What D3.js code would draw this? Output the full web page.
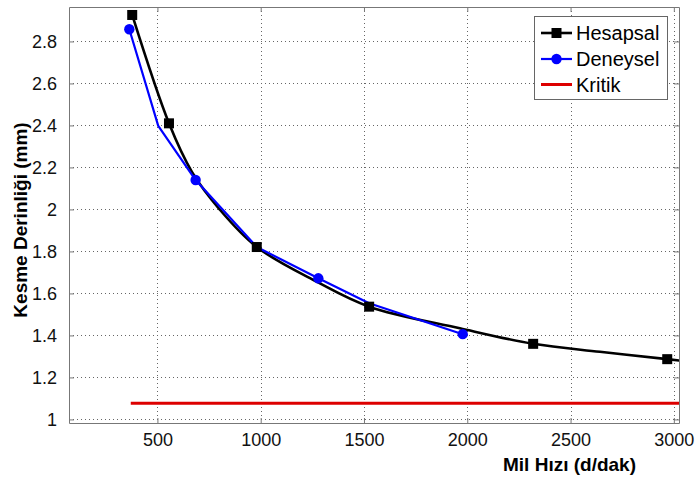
<!DOCTYPE html>
<html>
<head>
<meta charset="utf-8">
<script src="https://cdn.jsdelivr.net/npm/d3@7"></script>
<style>
  html, body { margin: 0; padding: 0; background: #fff; }
  svg { display: block; font-family: "Liberation Sans", Arial, sans-serif; }
</style>
</head>
<body>
<script>
// ---- data ----
const xTicks = [500, 1000, 1500, 2000, 2500, 3000];
const yTicks = [1, 1.2, 1.4, 1.6, 1.8, 2, 2.2, 2.4, 2.6, 2.8];
const yTickLabels = ["1", "1.2", "1.4", "1.6", "1.8", "2", "2.2", "2.4", "2.6", "2.8"];

// Hesapsal (calculated) smooth curve and its square markers
const hesapsalCurveX = [378, 556, 667, 803, 981, 1271, 1525, 1964, 2319, 2642, 2968, 3030];
const hesapsalCurveY = [2.926, 2.410, 2.179, 1.998, 1.821, 1.656, 1.537, 1.434, 1.360, 1.322, 1.287, 1.280];
const hesapsalX = [378, 556, 981, 1525, 2319, 2968];
const hesapsalY = [2.926, 2.410, 1.821, 1.537, 1.360, 1.287];

// Deneysel (experimental) polyline and its circle markers
const deneyselX = [364, 504, 685, 981, 1279, 1525, 1978];
const deneyselY = [2.858, 2.398, 2.140, 1.821, 1.672, 1.553, 1.406];
const deneyselMarkerX = [364, 685, 1279, 1978];
const deneyselMarkerY = [2.858, 2.140, 1.672, 1.406];

// Kritik (critical) horizontal line
const kritikX = [371, 3030];
const kritikY = [1.077, 1.077];

const seriesNames = ["Hesapsal", "Deneysel", "Kritik"];
const xTitle = "Mil Hızı (d/dak)";
const yTitle = "Kesme Derinliği (mm)";

// ---- layout ----
const W = 697, H = 480;
const L = 69, R = 679, T = 7, B = 423;

const svg = d3.select("body").append("svg").attr("width", W).attr("height", H);
svg.append("rect").attr("width", W).attr("height", H).attr("fill", "#fff");

const x = d3.scaleLinear().domain([72, 3025]).range([L, R]);
const y = d3.scaleLinear().domain([0.983, 2.964]).range([B, T]);

// clip
svg.append("clipPath").attr("id", "clip").append("rect")
  .attr("x", L).attr("y", T).attr("width", R - L).attr("height", B - T);

// grid
const grid = svg.append("g").attr("stroke", "#666").attr("stroke-width", 1)
  .attr("stroke-dasharray", "1,3");
grid.selectAll(".gx").data(xTicks).join("line")
  .attr("x1", d => Math.round(x(d)) + 0.5).attr("x2", d => Math.round(x(d)) + 0.5)
  .attr("y1", T).attr("y2", B);
grid.selectAll(".gy").data(yTicks).join("line")
  .attr("y1", d => Math.round(y(d)) + 0.5).attr("y2", d => Math.round(y(d)) + 0.5)
  .attr("x1", L).attr("x2", R);

// axes (box with inward ticks)
const axColor = "#777";
const fmtY = (d, i) => yTickLabels[i];
const axB = d3.axisBottom(x).tickValues(xTicks).tickSizeInner(-5).tickSizeOuter(0).tickPadding(10).tickFormat(d3.format("d"));
const axT = d3.axisTop(x).tickValues(xTicks).tickSizeInner(-5).tickSizeOuter(0).tickFormat("");
const axL = d3.axisLeft(y).tickValues(yTicks).tickSizeInner(-5).tickSizeOuter(0).tickPadding(12).tickFormat(fmtY);
const axR = d3.axisRight(y).tickValues(yTicks).tickSizeInner(-5).tickSizeOuter(0).tickFormat("");

function styleAxis(g) {
  g.select(".domain").attr("stroke", axColor);
  g.selectAll(".tick line").attr("stroke", axColor);
  g.selectAll("text").attr("fill", "#111").style("font-size", "18px")
    .style("font-family", "'Liberation Sans', Arial, sans-serif");
}
svg.append("g").attr("transform", `translate(0,${B})`).call(axB).call(styleAxis);
svg.append("g").attr("transform", `translate(0,${T})`).call(axT).call(styleAxis);
svg.append("g").attr("transform", `translate(${L},0)`).call(axL).call(styleAxis);
svg.append("g").attr("transform", `translate(${R},0)`).call(axR).call(styleAxis);

const plot = svg.append("g").attr("clip-path", "url(#clip)");

// Kritik
plot.append("path")
  .datum(kritikX.map((v, i) => [v, kritikY[i]]))
  .attr("fill", "none").attr("stroke", "#dd0000").attr("stroke-width", 3)
  .attr("d", d3.line().x(d => x(d[0])).y(d => y(d[1])));

// Hesapsal curve
plot.append("path")
  .datum(hesapsalCurveX.map((v, i) => [v, hesapsalCurveY[i]]))
  .attr("fill", "none").attr("stroke", "#000").attr("stroke-width", 2.6)
  .attr("stroke-linejoin", "round")
  .attr("d", d3.line().curve(d3.curveCatmullRom.alpha(0.5)).x(d => x(d[0])).y(d => y(d[1])));

// Deneysel line
plot.append("path")
  .datum(deneyselX.map((v, i) => [v, deneyselY[i]]))
  .attr("fill", "none").attr("stroke", "#0000ff").attr("stroke-width", 2.2)
  .attr("stroke-linejoin", "round")
  .attr("d", d3.line().x(d => x(d[0])).y(d => y(d[1])));

// markers
const sq = 10;
svg.append("g").selectAll("rect").data(hesapsalX.map((v, i) => [v, hesapsalY[i]])).join("rect")
  .attr("x", d => x(d[0]) - sq / 2).attr("y", d => y(d[1]) - sq / 2)
  .attr("width", sq).attr("height", sq).attr("fill", "#000");
svg.append("g").selectAll("circle").data(deneyselMarkerX.map((v, i) => [v, deneyselMarkerY[i]])).join("circle")
  .attr("cx", d => x(d[0])).attr("cy", d => y(d[1])).attr("r", 5.2).attr("fill", "#0000ff");

// axis titles
svg.append("text").attr("x", 636).attr("y", 471).attr("text-anchor", "end")
  .style("font-size", "19px").style("font-weight", "bold").attr("fill", "#000").text(xTitle);
svg.append("text").attr("transform", "translate(27,220) rotate(-90)").attr("text-anchor", "middle")
  .style("font-size", "19px").style("font-weight", "bold").attr("fill", "#000").text(yTitle);

// legend
const lg = svg.append("g");
lg.append("rect").attr("x", 534.5).attr("y", 16.5).attr("width", 133).attr("height", 83)
  .attr("fill", "#fff").attr("stroke", "#666").attr("stroke-width", 1);
const legendColors = ["#000", "#0000ff", "#dd0000"];
const legendWidths = [2.6, 2.2, 3];
const legendY = [33, 59, 84.5];
seriesNames.forEach((name, i) => {
  const yy = legendY[i];
  lg.append("line").attr("x1", 541).attr("x2", 572).attr("y1", yy).attr("y2", yy)
    .attr("stroke", legendColors[i]).attr("stroke-width", legendWidths[i]);
  if (i === 0) lg.append("rect").attr("x", 556.5 - 5).attr("y", yy - 5).attr("width", 10).attr("height", 10).attr("fill", "#000");
  if (i === 1) lg.append("circle").attr("cx", 556.5).attr("cy", yy).attr("r", 5.2).attr("fill", "#0000ff");
  lg.append("text").attr("x", 576).attr("y", yy + 7).style("font-size", "20px").attr("fill", "#000").text(name);
});
</script>
</body>
</html>
